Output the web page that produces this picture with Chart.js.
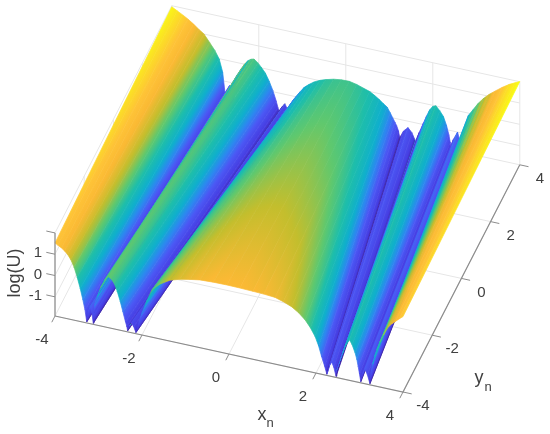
<!DOCTYPE html>
<html>
<head>
<meta charset="utf-8">
<style>html,body{margin:0;padding:0;background:#fff}#wrap{width:550px;height:434px}#graf{filter:blur(0.35px)}</style>
<script src="https://cdn.jsdelivr.net/npm/chart.js@4/dist/chart.umd.min.js"></script>
</head>
<body>
<div id="wrap"><canvas id="graf" width="550" height="434"></canvas></div>
<script>
// surface: one profile along the y=-4 edge, one along the y=4 edge, same column count
const frontX = [-4,-3.93,-3.85,-3.78,-3.71,-3.635,-3.56,-3.49,-3.42,-3.36,-3.31,-3.27,
  -3.23,-3.19,-3.155,-3.12,
  -3.105,-3.08,-3.0,-2.94,-2.87,-2.775,-2.70,-2.63,-2.57,-2.50,-2.44,-2.38,-2.35,-2.33,
  -2.29,-2.25,-2.19,-2.14,
  -2.115,-2.06,-2.0,-1.89,-1.77,-1.6,-1.36,-1.13,-.9,-.67,-.36,-.05,.25,.55,.8,1.06,1.25,1.44,1.6,1.75,1.87,1.98,2.06,2.13,2.2,2.25,
  2.30,2.36,2.41,2.46,
  2.48,2.51,2.55,2.61,2.67,2.77,2.83,2.9,2.94,2.97,3.0,3.03,
  3.07,3.12,3.18,3.24,
  3.27,3.3,3.34,3.395,3.47,3.55,3.66,3.74,3.816,3.91,4];
const frontZ = [1.53,1.45,1.36,1.25,1.12,.9,.58,.15,-.35,-.85,-1.31,-1.85,
  -1.35,-1.1,-1.35,-1.85,
  -1.36,-.9,-.39,-.05,.27,.49,.4,.2,-.1,-.55,-1.0,-1.45,-1.65,-1.85,
  -1.6,-1.43,-1.6,-1.85,
  -1.72,-1.27,-.87,-.25,.32,.66,.96,1.1,1.2,1.28,1.31,1.32,1.31,1.29,1.27,1.23,1.11,.96,.75,.48,.17,-.2,-.6,-1.08,-1.5,-1.85,
  -1.45,-1.23,-1.45,-1.85,
  -1.5,-1.3,-1.05,-.7,-.36,0,-.2,-.56,-.85,-1.17,-1.5,-1.85,
  -1.45,-1.2,-1.45,-1.85,
  -1.3,-.9,-.55,-.2,.21,.57,1.0,1.18,1.32,1.49,1.64];
const backX = [-4,-3.88,-3.75,-3.63,-3.5,-3.38,-3.26,-3.13,-3.01,-2.91,-2.83,-2.76,
  -2.72,-2.67,-2.62,-2.58,
  -2.49,-2.39,-2.32,-2.25,-2.18,-2.11,-2.02,-1.94,-1.85,-1.76,-1.675,-1.6,-1.56,-1.53,
  -1.46,-1.4,-1.36,-1.32,
  -1.285,-1.24,-1.19,-1.13,-1.05,-.95,-.84,-.73,-.59,-.46,-.28,-.1,.08,.25,.40,.55,.66,.77,.86,.95,1.02,1.08,1.13,1.17,1.21,1.24,
  1.33,1.43,1.52,1.6,
  1.69,1.79,1.86,1.93,2.0,2.07,2.16,2.245,2.315,2.37,2.40,2.42,
  2.47,2.57,2.62,2.66,
  2.74,2.82,2.93,3.04,3.17,3.30,3.44,3.60,3.76,3.89,4];
const backZ = [1.95,1.82,1.68,1.54,1.36,1.17,1.0,.66,.34,-.02,-.6,-1.85,
  -1.4,-1.15,-1.4,-1.85,
  -.55,-.2,.03,.2,.3,.34,.2,.02,-.2,-.55,-.95,-1.4,-1.7,-1.85,
  -1.6,-1.44,-1.6,-1.85,
  -1.5,-1.3,-1.12,-.95,-.72,-.46,-.28,-.12,.02,.11,.21,.26,.27,.2,.1,0,-.13,-.28,-.42,-.55,-.78,-1.0,-1.18,-1.33,-1.55,-1.85,
  -1.5,-1.3,-1.5,-1.85,
  -1.4,-.9,-.55,-.24,-.05,.01,-.18,-.42,-.8,-1.22,-1.55,-1.85,
  -1.4,-1.0,-1.4,-1.85,
  -.9,-.1,.22,.55,.85,1.1,1.32,1.56,1.77,1.9,2.01];

const xTicks = [-4,-2,0,2,4];
const yTicks = [-4,-2,0,2,4];
const zTicks = [-1,0,1];
const zMin = -1.9, zMax = 2;

// parula-ish colormap stops
const mapStops = [[0,62,38,168],[.05,70,60,225],[.18,75,88,244],[.28,45,135,240],[.38,15,175,205],[.5,30,190,170],
  [.61,95,200,110],[.72,195,190,45],[.82,250,185,52],[.88,254,195,55],[1,249,251,20]];

function parula(z){
    let t = Math.min(1, Math.max(0, (z - zMin) / (zMax - zMin)));
    for (let i = 1; i < mapStops.length; i++) {
        if (t <= mapStops[i][0]) {
            const a = mapStops[i-1], b = mapStops[i], f = (t - a[0]) / (b[0] - a[0]);
            return `rgb(${a[1]+(b[1]-a[1])*f|0},${a[2]+(b[2]-a[2])*f|0},${a[3]+(b[3]-a[3])*f|0})`;
        }
    }
    return "rgb(249,251,20)";
}

// the matlab view: data to plane position
function view(x, y, z){
    return {
        x: 55 + (x + 4) * 43.5 + (y + 4) * 14.6,
        y: 316 + (x + 4) * 9.5 - (y + 4) * 28.4 - (z - zMin) * 21.3
    };
}

// gradient for one column cell: best plane of z over the picture, one linear gradient shades it
function cellFill(f0, f1, b1, b0){
    return function(c){
        const sx = c.chart.scales.x, sy = c.chart.scales.y;
        const midZ = (f0.z + f1.z + b0.z + b1.z) / 4;
        const flat = parula(midZ);
        if (!sx || !sy) return flat;
        const px = p => { const v = view(p.x, p.y, p.z); return [sx.getPixelForValue(v.x), sy.getPixelForValue(v.y)]; };
        const F0 = px(f0), F1 = px(f1), B1 = px(b1), B0 = px(b0);
        if (![...F0, ...F1, ...B1, ...B0].every(Number.isFinite)) return flat;   // scales not laid out yet
        const ux = (F1[0]+B1[0]-F0[0]-B0[0])/2, uy = (F1[1]+B1[1]-F0[1]-B0[1])/2, uz = (f1.z+b1.z-f0.z-b0.z)/2;
        const vx = (B0[0]+B1[0]-F0[0]-F1[0])/2, vy = (B0[1]+B1[1]-F0[1]-F1[1])/2, vz = (b0.z+b1.z-f0.z-f1.z)/2;
        const det = ux*vy - uy*vx;
        if (Math.abs(det) < 0.01) return flat;
        const gx = (uz*vy - vz*uy) / det;
        const gy = (vz*ux - uz*vx) / det;
        const len = gx*gx + gy*gy;
        if (len < 1e-9) return flat;
        const cx = (F0[0]+F1[0]+B0[0]+B1[0])/4, cy = (F0[1]+F1[1]+B0[1]+B1[1])/4;
        const g = c.chart.ctx.createLinearGradient(
            cx + (zMin-midZ)*gx/len, cy + (zMin-midZ)*gy/len,
            cx + (zMax-midZ)*gx/len, cy + (zMax-midZ)*gy/len);
        mapStops.forEach(s => g.addColorStop(s[0], `rgb(${s[1]},${s[2]},${s[3]})`));
        return g;
    };
}

const sets = [];
function wire(points, color, width, order){
    sets.push({data: points, borderColor: color, borderWidth: width, pointRadius: 0, fill: false, tension: 0, order: order});
}

// back walls and floor grid
const gridColor = "#e6e6e6";
xTicks.forEach(t => {
    wire([view(t,-4,zMin), view(t,4,zMin), view(t,4,zMax)], gridColor, 1, 2000);
});
yTicks.forEach(t => {
    wire([view(-4,t,zMin), view(4,t,zMin)], gridColor, 1, 2000);
    wire([view(-4,t,zMin), view(-4,t,zMax)], gridColor, 1, 2000);
});
zTicks.concat([zMax]).forEach(t => {
    wire([view(-4,-4,t), view(-4,4,t), view(4,4,t)], gridColor, 1, 2000);
});

// surface columns, far ones first
for (let i = 0; i < frontX.length - 1; i++) {
    const f0 = {x: frontX[i], y: -4, z: frontZ[i]}, f1 = {x: frontX[i+1], y: -4, z: frontZ[i+1]};
    const b0 = {x: backX[i], y: 4, z: backZ[i]}, b1 = {x: backX[i+1], y: 4, z: backZ[i+1]};
    const fill = cellFill(f0, f1, b1, b0);
    const pts = [f0, f1, b1, b0, f0].map(p => view(p.x, p.y, p.z));
    sets.push({data: pts, backgroundColor: fill, borderColor: fill, borderWidth: 0.7, pointRadius: 0, fill: "shape", tension: 0, order: 1000 - i});
}

// axis lines and tick marks in front
const axisColor = "#8c8c8c";
wire([view(-4,-4,zMin), view(4,-4,zMin), view(4,4,zMin)], axisColor, 1.2, 1);
wire([view(-4,-4,zMin), view(-4,-4,zMax)], axisColor, 1.2, 1);
xTicks.forEach(t => wire([view(t,-4,zMin), view(t,-4.22,zMin)], axisColor, 1, 1));
yTicks.forEach(t => wire([view(4,t,zMin), view(4.2,t,zMin)], axisColor, 1, 1));
zTicks.concat([zMax]).forEach(t => wire([view(-4,-4,t), view(-4.2,-4,t)], axisColor, 1, 1));

const axisText = {
    id: "axisText",
    afterDraw(chart){
        const c = chart.ctx, sx = chart.scales.x, sy = chart.scales.y;
        const put = (p, dx, dy, s, font, align) => {
            c.font = font; c.textAlign = align || "center";
            c.fillText(s, sx.getPixelForValue(p.x) + dx, sy.getPixelForValue(p.y) + dy);
        };
        const f15 = "15px 'Liberation Sans'";
        c.save();
        c.fillStyle = "#404040"; c.textBaseline = "middle";
        xTicks.forEach(t => put(view(t,-4,zMin), -13, 24, String(t), f15));
        yTicks.forEach(t => put(view(4,t,zMin), 20, 14, String(t), f15));
        zTicks.forEach(t => put(view(-4,-4,t), -13, -1, String(t), f15, "right"));
        put({x:262,y:415}, 0, 0, "x", "18px 'Liberation Sans'");
        put({x:270,y:423}, 0, 0, "n", "13px 'Liberation Sans'");
        put({x:479,y:378}, 0, 0, "y", "18px 'Liberation Sans'");
        put({x:488,y:387}, 0, 0, "n", "13px 'Liberation Sans'");
        c.translate(sx.getPixelForValue(15), sy.getPixelForValue(273));
        c.rotate(-Math.PI/2);
        c.font = "18px 'Liberation Sans'"; c.textAlign = "center";
        c.fillText("log(U)", 0, 0);
        c.restore();
    }
};

new Chart("graf", {
    type: "scatter",
    data: {datasets: sets.map(s => Object.assign({showLine: true}, s))},
    options: {
        responsive: false,
        animation: false,
        parsing: false,
        normalized: true,
        layout: {padding: 0},
        scales: {
            x: {type: "linear", min: 0, max: 550, display: false},
            y: {type: "linear", min: 0, max: 434, reverse: true, display: false}
        },
        plugins: {legend: {display: false}, tooltip: {enabled: false}}
    },
    plugins: [axisText]
});
</script>
</body>
</html>
